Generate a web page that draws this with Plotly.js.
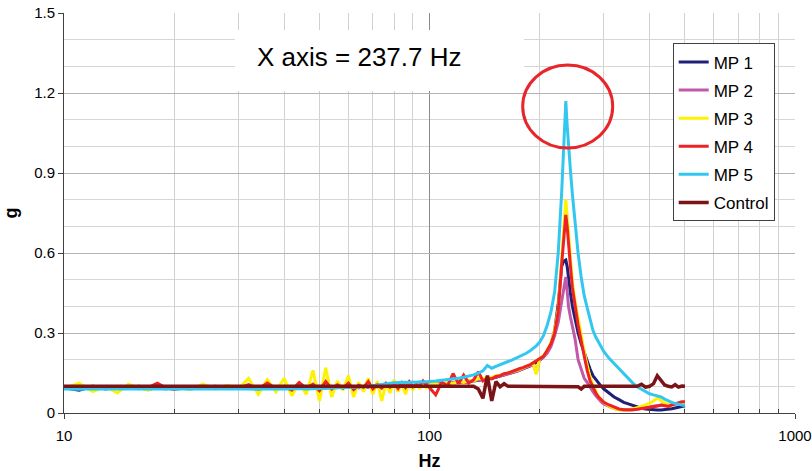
<!DOCTYPE html>
<html>
<head>
<meta charset="utf-8">
<script src="https://cdn.plot.ly/plotly-3.0.1.min.js"></script>
<style>html,body{margin:0;padding:0;background:#fff;}#chart{width:812px;height:471px;}</style>
</head>
<body>
<div id="chart"></div>
<script>
// Frequency (Hz)
const freq = [10,11,12,13,14,15,16,17,18,19,
  20,22,24,26,28,30,32,34,36,38,
  40,42,44,46,48,50,52,54,56,58,
  60,62,64,66,68,70,72,74,76,78,
  80,82,84,86,88,90,92,94,96,98,
  100,104,108,112,116,120,124,128,132,136,
  140,144,148,152,156,160,164,168,172,176,
  180,184,188,192,196,200,205,210,215,220,
  225,230,233,236,238,240,243,246,250,255,
  260,265,270,275,280,285,290,295,300,310,
  320,330,340,350,360,370,380,390,400,410,
  420,430,440,450,460,470,480,490,500];

const mp1 = [0.095,0.085,0.1,0.09,0.097,0.092,0.1,0.088,0.096,0.093,
  0.097,0.09,0.096,0.1,0.092,0.095,0.098,0.09,0.097,0.094,
  0.1,0.091,0.096,0.088,0.1,0.094,0.099,0.09,0.097,0.093,
  0.1,0.092,0.097,0.094,0.099,0.096,0.101,0.095,0.1,0.098,
  0.102,0.097,0.1,0.104,0.099,0.103,0.101,0.105,0.102,0.106,
  0.108,0.106,0.11,0.108,0.112,0.115,0.114,0.117,0.119,0.121,
  0.123,0.127,0.13,0.134,0.138,0.142,0.146,0.15,0.155,0.16,
  0.165,0.17,0.176,0.183,0.19,0.198,0.21,0.23,0.26,0.31,
  0.41,0.55,0.57,0.574,0.55,0.5,0.45,0.4,0.35,0.3,
  0.26,0.225,0.19,0.165,0.14,0.125,0.11,0.1,0.09,0.075,
  0.06,0.05,0.04,0.034,0.028,0.022,0.018,0.015,0.013,0.012,
  0.011,0.011,0.012,0.014,0.016,0.019,0.022,0.025,0.027];

const mp2 = [0.094,0.1,0.09,0.097,0.093,0.098,0.091,0.096,0.095,0.09,
  0.096,0.093,0.098,0.094,0.097,0.092,0.096,0.099,0.093,0.097,
  0.095,0.099,0.092,0.097,0.094,0.1,0.093,0.097,0.095,0.099,
  0.096,0.1,0.094,0.098,0.096,0.1,0.097,0.102,0.099,0.101,
  0.1,0.104,0.1,0.103,0.106,0.102,0.105,0.103,0.107,0.105,
  0.108,0.11,0.109,0.112,0.114,0.116,0.115,0.118,0.12,0.122,
  0.124,0.127,0.131,0.135,0.138,0.142,0.147,0.151,0.156,0.16,
  0.166,0.171,0.177,0.184,0.15,0.2,0.21,0.225,0.25,0.29,
  0.34,0.42,0.47,0.51,0.46,0.40,0.36,0.33,0.28,0.2,
  0.16,0.13,0.115,0.095,0.08,0.065,0.052,0.042,0.034,0.024,
  0.017,0.013,0.011,0.011,0.012,0.014,0.016,0.019,0.022,0.025,
  0.028,0.03,0.031,0.032,0.033,0.034,0.035,0.036,0.036];

const mp3 = [0.092,0.112,0.08,0.1,0.075,0.108,0.095,0.085,0.11,0.093,
  0.1,0.088,0.108,0.09,0.104,0.092,0.13,0.07,0.125,0.08,
  0.13,0.065,0.115,0.07,0.16,0.045,0.17,0.06,0.12,0.085,
  0.14,0.06,0.115,0.08,0.13,0.07,0.12,0.045,0.11,0.075,
  0.125,0.08,0.11,0.07,0.12,0.085,0.115,0.09,0.12,0.095,
  0.105,0.11,0.1,0.115,0.11,0.12,0.115,0.122,0.12,0.13,
  0.128,0.135,0.133,0.14,0.142,0.146,0.15,0.155,0.158,0.163,
  0.168,0.174,0.18,0.186,0.145,0.205,0.215,0.235,0.265,0.31,
  0.39,0.57,0.69,0.80,0.74,0.67,0.57,0.49,0.42,0.35,
  0.29,0.23,0.18,0.135,0.105,0.08,0.062,0.05,0.04,0.026,
  0.017,0.012,0.01,0.012,0.015,0.02,0.025,0.03,0.036,0.045,
  0.056,0.047,0.037,0.031,0.032,0.034,0.036,0.038,0.04];

const mp4 = [0.096,0.093,0.1,0.095,0.098,0.092,0.1,0.095,0.112,0.094,
  0.088,0.097,0.1,0.095,0.098,0.093,0.106,0.09,0.112,0.092,
  0.1,0.086,0.114,0.093,0.108,0.084,0.118,0.09,0.106,0.093,
  0.112,0.088,0.104,0.096,0.118,0.09,0.106,0.093,0.112,0.097,
  0.11,0.092,0.114,0.095,0.117,0.098,0.108,0.102,0.12,0.105,
  0.095,0.068,0.116,0.102,0.148,0.11,0.142,0.113,0.124,0.155,
  0.12,0.13,0.128,0.137,0.14,0.147,0.15,0.156,0.16,0.166,
  0.17,0.175,0.18,0.188,0.195,0.203,0.213,0.235,0.26,0.30,
  0.38,0.56,0.66,0.743,0.70,0.65,0.55,0.47,0.40,0.33,
  0.27,0.21,0.16,0.12,0.095,0.075,0.06,0.05,0.04,0.03,
  0.022,0.015,0.012,0.011,0.012,0.014,0.016,0.018,0.02,0.022,
  0.026,0.03,0.028,0.025,0.03,0.035,0.04,0.042,0.042];

const mp5 = [0.09,0.089,0.091,0.09,0.089,0.09,0.091,0.09,0.089,0.09,
  0.09,0.091,0.09,0.089,0.09,0.091,0.09,0.089,0.091,0.09,
  0.09,0.091,0.092,0.09,0.091,0.092,0.091,0.093,0.092,0.093,
  0.094,0.095,0.096,0.098,0.1,0.103,0.105,0.107,0.11,0.112,
  0.113,0.114,0.113,0.115,0.114,0.116,0.115,0.117,0.116,0.118,
  0.118,0.12,0.122,0.124,0.126,0.13,0.134,0.138,0.143,0.15,
  0.158,0.178,0.168,0.175,0.182,0.188,0.193,0.198,0.204,0.21,
  0.217,0.224,0.232,0.241,0.252,0.265,0.29,0.33,0.38,0.455,
  0.6,0.83,1.0,1.17,1.08,1.0,0.91,0.82,0.72,0.6,
  0.51,0.44,0.395,0.35,0.31,0.285,0.265,0.245,0.23,0.205,
  0.185,0.165,0.145,0.128,0.112,0.098,0.09,0.08,0.072,0.068,
  0.065,0.06,0.052,0.045,0.04,0.036,0.032,0.03,0.028];

const control = [0.1,0.1,0.1,0.1,0.1,0.1,0.1,0.1,0.1,0.1,
  0.1,0.1,0.1,0.1,0.1,0.1,0.1,0.1,0.1,0.1,
  0.1,0.1,0.1,0.1,0.1,0.1,0.1,0.1,0.1,0.1,
  0.1,0.1,0.1,0.1,0.1,0.1,0.1,0.1,0.1,0.1,
  0.1,0.1,0.1,0.1,0.1,0.1,0.1,0.1,0.1,0.1,
  0.1,0.1,0.1,0.1,0.1,0.1,0.1,0.1,0.1,0.09,
  0.055,0.14,0.045,0.118,0.098,0.11,0.1,0.1,0.1,0.1,
  0.1,0.1,0.1,0.1,0.1,0.1,0.1,0.1,0.1,0.1,
  0.1,0.1,0.1,0.1,0.1,0.1,0.1,0.1,0.1,0.098,
  0.09,0.1,0.1,0.1,0.1,0.1,0.1,0.1,0.1,0.1,
  0.1,0.1,0.1,0.1,0.1,0.1,0.108,0.097,0.1,0.11,
  0.14,0.122,0.105,0.1,0.098,0.106,0.097,0.101,0.1];

const seriesNames = ['MP 1','MP 2','MP 3','MP 4','MP 5','Control'];
const seriesValues = [mp1, mp2, mp3, mp4, mp5, control];
const seriesColors = ['#1f1f78','#bf5aa8','#fff200','#ee2124','#33c7ef','#7a1416'];
const seriesWidths = [3, 3, 3, 3, 3, 3.5];

const xTickVals = [10, 100, 1000];
const xTickText = ['10', '100', '1000'];
const xMinorVals = [20,30,40,50,60,70,80,90,200,300,400,500,600,700,800,900];

const FONT = 'Liberation Sans, Arial, Helvetica, sans-serif';

const traces = seriesNames.map((name, i) => ({
  type: 'scatter', mode: 'lines', name: name,
  x: freq, y: seriesValues[i],
  line: {color: seriesColors[i], width: seriesWidths[i]},
  legendgroup: 'g' + i
}));

const layout = {
  width: 812, height: 471,
  margin: {l: 64, r: 17, t: 13, b: 58},
  paper_bgcolor: '#fff', plot_bgcolor: '#fff',
  font: {family: FONT, color: '#000', size: 15},
  showlegend: true,
  legend: {
    x: 0.8327, y: 0.924, xanchor: 'left', yanchor: 'top',
    bgcolor: '#fff', bordercolor: '#404040', borderwidth: 1,
    font: {family: FONT, size: 17, color: '#000'},
    traceorder: 'grouped', tracegroupgap: 3
  },
  xaxis: {
    type: 'log', range: [1, 3],
    tickmode: 'array', tickvals: xTickVals, ticktext: xTickText,
    ticks: 'outside', ticklen: 5, tickcolor: '#404040', ticklabelstandoff: 4,
    showline: true, linecolor: '#404040', linewidth: 1,
    showgrid: true, gridcolor: '#8c8c8c', gridwidth: 1,
    minor: {tickmode: 'array', tickvals: xMinorVals, showgrid: true, gridcolor: '#d0d0d0',
            ticks: 'inside', ticklen: 4, tickcolor: '#404040'},
    tickfont: {family: FONT, size: 15, color: '#000'},
    title: {text: '<b>Hz</b>', font: {family: FONT, size: 18, color: '#000'}, standoff: 12},
    zeroline: false, fixedrange: true
  },
  yaxis: {
    range: [0, 1.5], tickmode: 'linear', tick0: 0, dtick: 0.3,
    ticks: 'outside', ticklen: 5, tickcolor: '#404040',
    showline: true, linecolor: '#404040', linewidth: 1,
    showgrid: true, gridcolor: '#b4b4b4', gridwidth: 1,
    minor: {dtick: 0.1, showgrid: true, gridcolor: '#d6d6d6'},
    tickfont: {family: FONT, size: 15, color: '#000'},
    title: {text: '<b>g</b>', font: {family: FONT, size: 18, color: '#000'}, standoff: 11},
    zeroline: false, fixedrange: true
  },
  shapes: [
    {type: 'rect', xref: 'paper', yref: 'paper', x0: 0.2339, x1: 0.6293, y0: 0.805, y1: 0.9575,
     fillcolor: '#ffffff', line: {width: 0}, layer: 'above'},
    {type: 'circle', xref: 'paper', yref: 'paper', x0: 0.6275, x1: 0.7506, y0: 0.6625, y1: 0.87,
     line: {color: '#e8262a', width: 3}, layer: 'above'}
  ],
  annotations: [
    {xref: 'paper', yref: 'paper', x: 0.4042, y: 0.89, xanchor: 'center', yanchor: 'middle',
     text: 'X axis = 237.7 Hz', showarrow: false, font: {family: FONT, size: 26, color: '#000'}}
  ]
};

Plotly.newPlot('chart', traces, layout, {staticPlot: true, displayModeBar: false});
</script>
</body>
</html>
